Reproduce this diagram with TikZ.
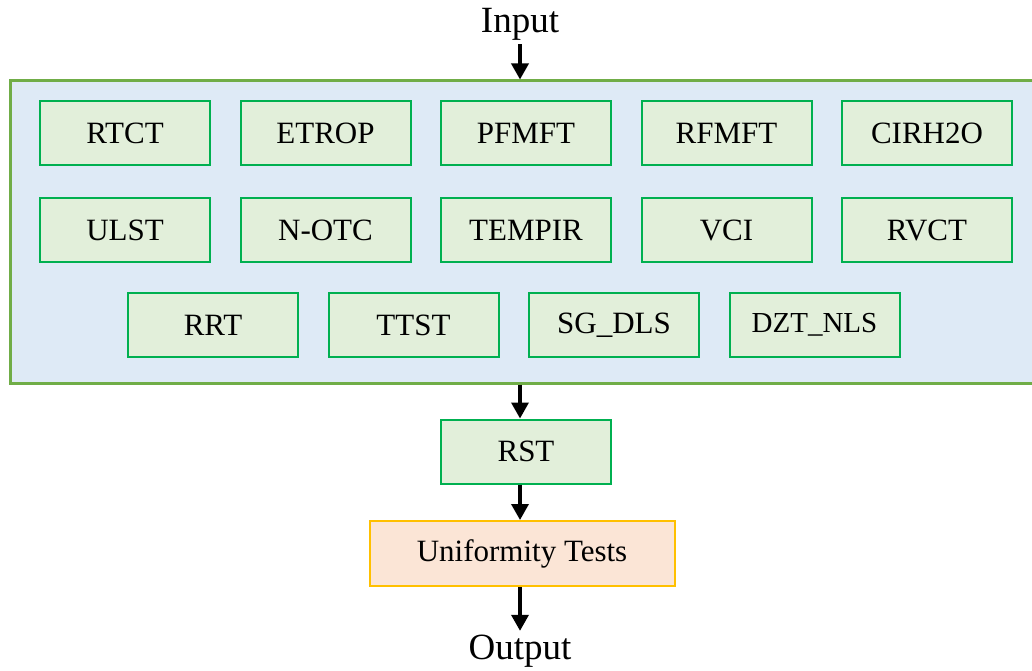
\documentclass[tikz,border=0pt]{standalone}
\usepackage{fontspec}
\setmainfont{Liberation Serif}
\usetikzlibrary{arrows.meta,positioning}

\definecolor{framefill}{HTML}{DEEAF6}
\definecolor{frameline}{HTML}{70AD47}
\definecolor{boxfill}{HTML}{E2EFDA}
\definecolor{boxline}{HTML}{00B050}
\definecolor{testfill}{HTML}{FBE5D6}
\definecolor{testline}{HTML}{FFC000}

\begin{document}
\begin{tikzpicture}[x=1pt,y=-1pt,
                    node distance=200.5pt,
                    line width=2pt]
    \tikzstyle{box}=[rectangle,
                    minimum width=170pt,
                    minimum height=64pt,
                    inner sep=0pt,
                    draw=boxline,
                    fill=boxfill,
                    font=\fontsize{31}{36}\selectfont]
    \tikzstyle{label}=[inner sep=3pt,
                    font=\fontsize{37}{42}\selectfont]
    \tikzstyle{flow}=[-{Triangle[length=16pt,width=17pt]},
                    line width=3.5pt]

    \useasboundingbox (0,0) rectangle (1032,671);

    \node[rectangle, draw=frameline, fill=framefill, line width=3pt,
          minimum width=1030pt, minimum height=302pt] (frame) at (525,232) {};

    % first row
    \node[box] (rtct) at (125,133) {RTCT};
    \node[box] (etrop) [right of=rtct] {ETROP};
    \node[box] (pfmft) [right of=etrop] {PFMFT};
    \node[box] (rfmft) [right of=pfmft] {RFMFT};
    \node[box] (cirh) [right of=rfmft] {CIRH2O};

    % second row
    \node[box] (ulst) at (125,230) {ULST};
    \node[box] (notc) [right of=ulst] {N-OTC};
    \node[box] (tempir) [right of=notc] {TEMPIR};
    \node[box] (vci) [right of=tempir] {VCI};
    \node[box] (rvct) [right of=vci] {RVCT};

    % third row
    \node[box] (rrt) at (213,325) {RRT};
    \node[box] (ttst) [right of=rrt] {TTST};
    \node[box] (sgdls) [right of=ttst] {SG\_DLS};
    \node[box, font=\fontsize{29}{34}\selectfont] (dztnls) [right of=sgdls] {DZT\_NLS};

    \node[box] (rst) at (526,451.5) {RST};
    \node[box, draw=testline, fill=testfill, minimum width=305pt,
          minimum height=65pt] (unif) at (522,553.5) {Uniformity Tests};

    \node[label] (input) at (520,24) {Input};
    \node[label] (output) at (520,651) {Output};

    \draw[flow] (input.south) -- (input.south |- frame.north);
    \draw[flow] (frame.south -| input.south) -- (input.south |- rst.north);
    \draw[flow] (rst.south -| input.south) -- (input.south |- unif.north);
    \draw[flow] (unif.south -| input.south) -- (output.north);
\end{tikzpicture}
\end{document}
